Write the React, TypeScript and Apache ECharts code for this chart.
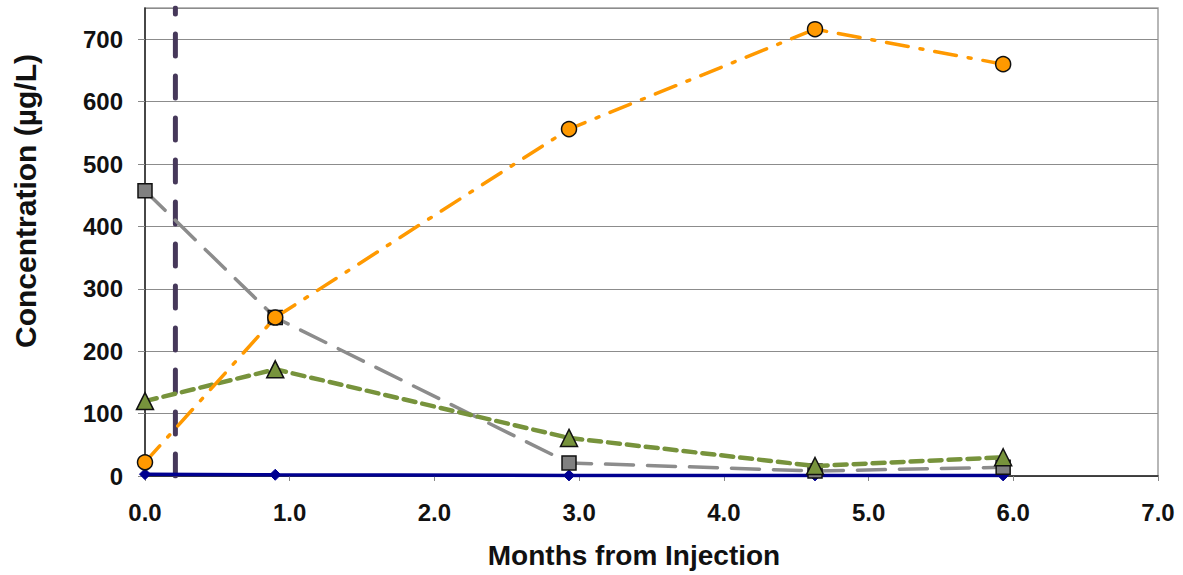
import React, { useEffect, useRef } from "react";
import * as echarts from "echarts";

const months = [0.0, 0.9, 2.93, 4.63, 5.93];
const orangeSeries = [22, 254, 556, 716, 660];
const graySeries = [457, 254, 21, 8, 14];
const greenSeries = [120, 171, 61, 16, 30];
const blueSeries = [3, 2, 1, 1, 1];
const injectionMonth = [0.21];
const yRange = [0, 750];
const xTitle = "Months from Injection";
const yTitle = "Concentration (µg/L)";

const pair = (vals: number[]) => months.map((m, i) => [m, vals[i]]);

export default function App() {
  const ref = useRef<HTMLDivElement>(null);
  useEffect(() => {
    const chart = echarts.init(ref.current!, undefined, { renderer: "svg" });
    const font = "'Liberation Sans', Arial, sans-serif";
    chart.setOption({
      animation: false,
      backgroundColor: "#ffffff",
      grid: { left: 145, right: 25, top: 8, bottom: 99, show: true, borderColor: "#a0a0a0", borderWidth: 1.5 },
      graphic: [
        {
          type: "text",
          x: 634,
          y: 555,
          style: { text: xTitle, fontFamily: font, fontWeight: "bold", fontSize: 28, fill: "#111", textAlign: "center", textVerticalAlign: "middle" },
        },
        {
          type: "text",
          x: 25,
          y: 201,
          rotation: Math.PI / 2,
          style: { text: yTitle, fontFamily: font, fontWeight: "bold", fontSize: 30, fill: "#111", textAlign: "center", textVerticalAlign: "middle" },
        },
      ],
      xAxis: {
        type: "value",
        min: 0,
        max: 7,
        interval: 1,
        axisLine: { show: true, lineStyle: { color: "#222", width: 1.5 } },
        axisTick: { show: true, length: 5, lineStyle: { color: "#888" } },
        axisLabel: { formatter: (v: number) => v.toFixed(1), fontFamily: font, fontWeight: "bold", fontSize: 24, color: "#111", margin: 24 },
        splitLine: { show: false },
      },
      yAxis: {
        type: "value",
        min: yRange[0],
        max: yRange[1],
        interval: 100,
        axisLine: { show: true, lineStyle: { color: "#222", width: 1.5 } },
        axisTick: { show: true, length: 7, lineStyle: { color: "#888" } },
        axisLabel: {
          fontFamily: font,
          fontWeight: "bold",
          fontSize: 24,
          color: "#111",
          margin: 22,
          showMaxLabel: false,
        },
        splitLine: { show: true, lineStyle: { color: "#8c8c8c", width: 1 } },
      },
      series: [
        {
          type: "line",
          data: [[injectionMonth[0], yRange[0]], [injectionMonth[0], yRange[1]]],
          showSymbol: false,
          symbol: "none",
          lineStyle: { color: "#46385a", width: 5, type: [22, 20], cap: "round" },
          z: 1,
        },
        {
          name: "blue",
          type: "line",
          data: pair(blueSeries),
          symbol: "diamond",
          symbolSize: 11,
          itemStyle: { color: "#000090", borderColor: "#000090", borderWidth: 1 },
          lineStyle: { color: "#000090", width: 3.5 },
          z: 2,
        },
        {
          name: "gray",
          type: "line",
          data: pair(graySeries),
          symbol: "rect",
          symbolSize: 14,
          itemStyle: { color: "#808080", borderColor: "#111", borderWidth: 1.5 },
          lineStyle: { color: "#8c8c8c", width: 3.5, type: [28, 14], cap: "round" },
          z: 3,
        },
        {
          name: "green",
          type: "line",
          data: pair(greenSeries),
          symbol: "triangle",
          symbolSize: 17,
          itemStyle: { color: "#77933c", borderColor: "#111", borderWidth: 1.5 },
          lineStyle: { color: "#77933c", width: 4.5, type: [12, 7], cap: "round" },
          z: 4,
        },
        {
          name: "orange",
          type: "line",
          data: pair(orangeSeries),
          symbol: "circle",
          symbolSize: 15,
          itemStyle: { color: "#ff9900", borderColor: "#111", borderWidth: 1.5 },
          lineStyle: { color: "#ff9900", width: 3.5, type: [22, 12, 3, 12], cap: "round" },
          z: 5,
        },
      ],
    });
    return () => chart.dispose();
  }, []);
  return <div ref={ref} style={{ position: "fixed", left: 0, top: 0, width: 1183, height: 575 }} />;
}
